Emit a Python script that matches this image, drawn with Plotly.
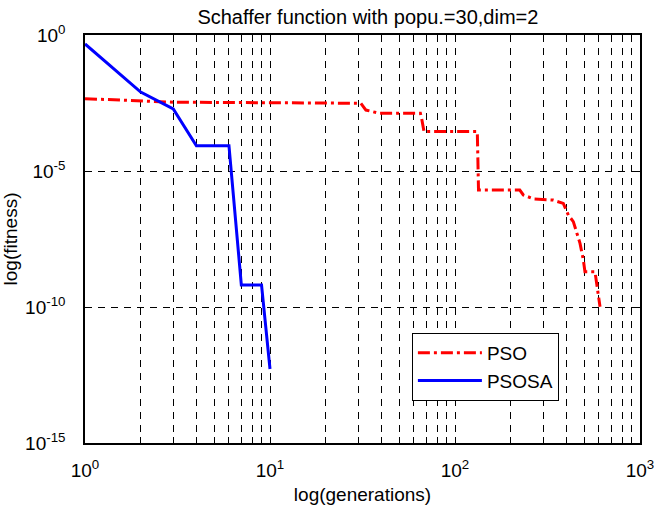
import numpy as np
import plotly.graph_objects as go

# ---- data ----
pso_generations = [1, 3, 31, 33, 39, 65, 66, 68, 132, 134, 224, 234, 267, 339, 385,
                   410, 436, 474, 494, 504, 571, 595, 608]
pso_log10_fitness = [-2.34, -2.47, -2.51, -2.76, -2.88, -2.88, -3.06, -3.55, -3.55, -5.70,
                     -5.70, -5.88, -6.03, -6.07, -6.19, -6.62, -6.86, -7.66, -8.27, -8.70,
                     -8.70, -9.62, -9.99]

psosa_generations = [1, 2, 3, 4, 5, 6, 7, 8, 9, 10]
psosa_log10_fitness = [-0.33, -2.10, -2.72, -4.07, -4.07, -4.07, -9.19, -9.19, -9.19, -12.28]

x_tick_decades = [0, 1, 2, 3]
y_tick_decades = [-15, -10, -5, 0]

title_text = "Schaffer function with popu.=30,dim=2"
x_title = "log(generations)"
y_title = "log(fitness)"

FONT = "Liberation Sans, Arial, Helvetica, sans-serif"

# x ticks at every 1..9 x 10^k (grid at each), labels only at decades
x_tickvals, x_ticktext = [], []
for d in x_tick_decades:
    for m in range(1, 10):
        if d == x_tick_decades[-1] and m > 1:
            break
        x_tickvals.append(m * 10 ** d)
        x_ticktext.append(f"10<sup>{d}</sup>" if m == 1 else "")

y_tickvals = [10.0 ** d for d in y_tick_decades]
y_ticktext = [f"10<sup>{d}</sup>" for d in y_tick_decades]

fig = go.Figure()
fig.add_trace(go.Scatter(
    x=pso_generations, y=10.0 ** np.array(pso_log10_fitness),
    mode="lines", name="PSO",
    line=dict(color="#ff0000", width=3, dash="12px,4px,3px,4px"),
))
fig.add_trace(go.Scatter(
    x=psosa_generations, y=10.0 ** np.array(psosa_log10_fitness),
    mode="lines", name="PSOSA",
    line=dict(color="#0000ff", width=3),
))

axis_common = dict(
    showline=True, linecolor="black", linewidth=1.5, mirror="ticks",
    ticks="inside", ticklen=6, tickcolor="black", tickwidth=1,
    showgrid=True, gridcolor="black", gridwidth=1, griddash="7px,6px",
    zeroline=False,
    ticklabeloverflow="allow",
    tickfont=dict(family=FONT, size=19, color="black"),
)

fig.update_xaxes(
    type="log", range=[0, 3],
    tickmode="array", tickvals=x_tickvals, ticktext=x_ticktext,
    ticklabelstandoff=9,
    title=dict(text=x_title, font=dict(family=FONT, size=19, color="black"), standoff=8),
    **axis_common,
)
fig.update_yaxes(
    type="log", range=[-15, 0],
    tickmode="array", tickvals=y_tickvals, ticktext=y_ticktext,
    ticklabelstandoff=14,
    title=dict(text=y_title, font=dict(family=FONT, size=19, color="black"), standoff=6),
    **axis_common,
)

fig.update_layout(
    width=654, height=510,
    margin=dict(l=85, r=14, t=35, b=67, autoexpand=False),
    paper_bgcolor="white", plot_bgcolor="white",
    title=dict(text=title_text, x=0.5625, xanchor="center", y=0.9667, yanchor="middle",
               font=dict(family=FONT, size=20, color="black")),
    legend=dict(
        x=0.589, y=0.270, xanchor="left", yanchor="top",
        bgcolor="white", bordercolor="black", borderwidth=1,
        font=dict(family=FONT, size=19, color="black"),
        itemwidth=64,
    ),
    showlegend=True,
)

fig.write_html("out.html")
